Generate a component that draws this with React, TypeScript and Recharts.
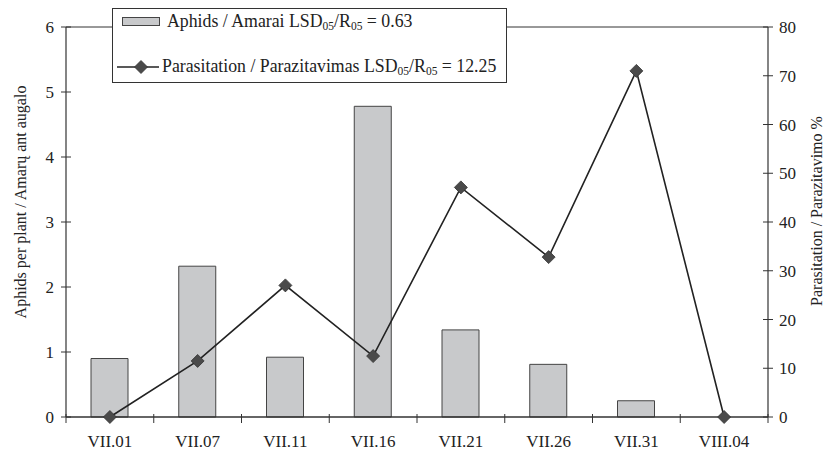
import { ComposedChart, Bar, Line, XAxis, YAxis, ReferenceLine } from "recharts";

const categories = ["VII.01", "VII.07", "VII.11", "VII.16", "VII.21", "VII.26", "VII.31", "VIII.04"];
const aphids = [0.9, 2.32, 0.92, 4.78, 1.34, 0.81, 0.25, 0];
const parasitation = [0, 11.5, 27.0, 12.5, 47.1, 32.8, 71.0, 0];
const leftTicks = [0, 1, 2, 3, 4, 5, 6];
const rightTicks = [0, 10, 20, 30, 40, 50, 60, 70, 80];

const data = categories.map((c, i) => ({ date: c, aphids: aphids[i], para: parasitation[i] }));

const FONT = "'Liberation Serif', 'Times New Roman', serif";
const AXIS = "#333";
const LEFT_X = 66;
const RIGHT_X = 768;
const BOTTOM_Y = 417;
const BAND = (RIGHT_X - LEFT_X) / categories.length;

const LeftTick = (props: any) => {
    const { y, payload } = props;
    return (
        <g>
            <line x1={LEFT_X - 5} x2={LEFT_X + 5} y1={y} y2={y} stroke={AXIS} />
            <text x={LEFT_X - 12} y={y} dy={6} textAnchor="end" fontSize={17} fontFamily={FONT} fill="#222">
                {payload.value}
            </text>
        </g>
    );
};

const RightTick = (props: any) => {
    const { y, payload } = props;
    return (
        <g>
            <line x1={RIGHT_X - 5} x2={RIGHT_X + 5} y1={y} y2={y} stroke={AXIS} />
            <text x={RIGHT_X + 11} y={y} dy={6} textAnchor="start" fontSize={17} fontFamily={FONT} fill="#222">
                {payload.value}
            </text>
        </g>
    );
};

const BottomTick = (props: any) => {
    const { x, payload, index } = props;
    const last = index === categories.length - 1;
    return (
        <g>
            <line x1={x - BAND / 2} x2={x - BAND / 2} y1={BOTTOM_Y - 3} y2={BOTTOM_Y + 6} stroke={AXIS} />
            {last && <line x1={x + BAND / 2} x2={x + BAND / 2} y1={BOTTOM_Y - 3} y2={BOTTOM_Y + 6} stroke={AXIS} />}
            <text x={x} y={BOTTOM_Y + 30} textAnchor="middle" fontSize={17} fontFamily={FONT} fill="#222">
                {payload.value}
            </text>
        </g>
    );
};

const Diamond = (props: any) => {
    const { cx, cy } = props;
    if (cx == null || cy == null) return null;
    const r = 6.5;
    return (
        <polygon
            points={`${cx},${cy - r} ${cx + r},${cy} ${cx},${cy + r} ${cx - r},${cy}`}
            fill="#4a4a4a"
            stroke="#333"
            strokeWidth={0.8}
        />
    );
};

const Sub = ({ children }: { children: string }) => (
    <span style={{ fontSize: 11.5, verticalAlign: "-3px" }}>{children}</span>
);

export default function App() {
    return (
        <div style={{ position: "absolute", left: 0, top: 0, width: 825, height: 455, background: "#fff" }}>
            <ComposedChart
                width={825}
                height={455}
                data={data}
                margin={{ top: 27, right: 0, bottom: 0, left: 0 }}
            >
                <XAxis
                    dataKey="date"
                    height={38}
                    axisLine={{ stroke: AXIS, strokeWidth: 1.5 }}
                    tickLine={false}
                    tick={<BottomTick />}
                    interval={0}
                />
                <YAxis
                    yAxisId="left"
                    width={66}
                    domain={[0, 6]}
                    ticks={leftTicks}
                    axisLine={{ stroke: AXIS, strokeWidth: 1.2 }}
                    tickLine={false}
                    tick={<LeftTick />}
                    label={{
                        content: () => (
                            <text
                                x={20}
                                y={202}
                                transform="rotate(-90 20 202)"
                                textAnchor="middle"
                                dy={6}
                                fontSize={16}
                                fontFamily={FONT}
                                fill="#222"
                            >
                                Aphids per plant / Amarų ant augalo
                            </text>
                        ),
                    }}
                />
                <YAxis
                    yAxisId="right"
                    orientation="right"
                    width={57}
                    domain={[0, 80]}
                    ticks={rightTicks}
                    axisLine={{ stroke: AXIS, strokeWidth: 1.2 }}
                    tickLine={false}
                    tick={<RightTick />}
                    label={{
                        content: () => (
                            <text
                                x={816}
                                y={211}
                                transform="rotate(-90 816 211)"
                                textAnchor="middle"
                                dy={6}
                                fontSize={16}
                                fontFamily={FONT}
                                fill="#222"
                            >
                                Parasitation / Parazitavimo %
                            </text>
                        ),
                    }}
                />
                <ReferenceLine yAxisId="left" y={6} stroke={AXIS} strokeWidth={1} />
                <Bar
                    yAxisId="left"
                    dataKey="aphids"
                    barSize={37}
                    fill="#c8c9cb"
                    stroke="#444"
                    strokeWidth={1}
                    isAnimationActive={false}
                />
                <Line
                    yAxisId="right"
                    dataKey="para"
                    stroke="#222"
                    strokeWidth={1.6}
                    dot={<Diamond />}
                    activeDot={false}
                    isAnimationActive={false}
                />
            </ComposedChart>
            <div
                style={{
                    position: "absolute",
                    left: 112,
                    top: 8,
                    width: 393,
                    height: 73,
                    border: "1px solid #333",
                    background: "#fff",
                    fontFamily: FONT,
                    fontSize: 17.8,
                    color: "#222",
                }}
            >
                <div style={{ position: "absolute", left: 9, top: 2, display: "flex", alignItems: "center", whiteSpace: "nowrap" }}>
                    <span style={{ display: "inline-block", width: 36, height: 7, background: "#c8c9cb", border: "1px solid #444", marginRight: 7 }} />
                    <span>
                        Aphids / Amarai LSD<Sub>05</Sub>/R<Sub>05</Sub> = 0.63
                    </span>
                </div>
                <div style={{ position: "absolute", left: 4, top: 47, display: "flex", alignItems: "center", whiteSpace: "nowrap" }}>
                    <svg width={42} height={16} style={{ marginRight: 3 }}>
                        <line x1={0} x2={42} y1={8} y2={8} stroke="#222" strokeWidth={1.6} />
                        <polygon points="24,1.5 30.5,8 24,14.5 17.5,8" fill="#4a4a4a" stroke="#333" strokeWidth={0.8} />
                    </svg>
                    <span>
                        Parasitation / Parazitavimas LSD<Sub>05</Sub>/R<Sub>05</Sub> = 12.25
                    </span>
                </div>
            </div>
        </div>
    );
}
